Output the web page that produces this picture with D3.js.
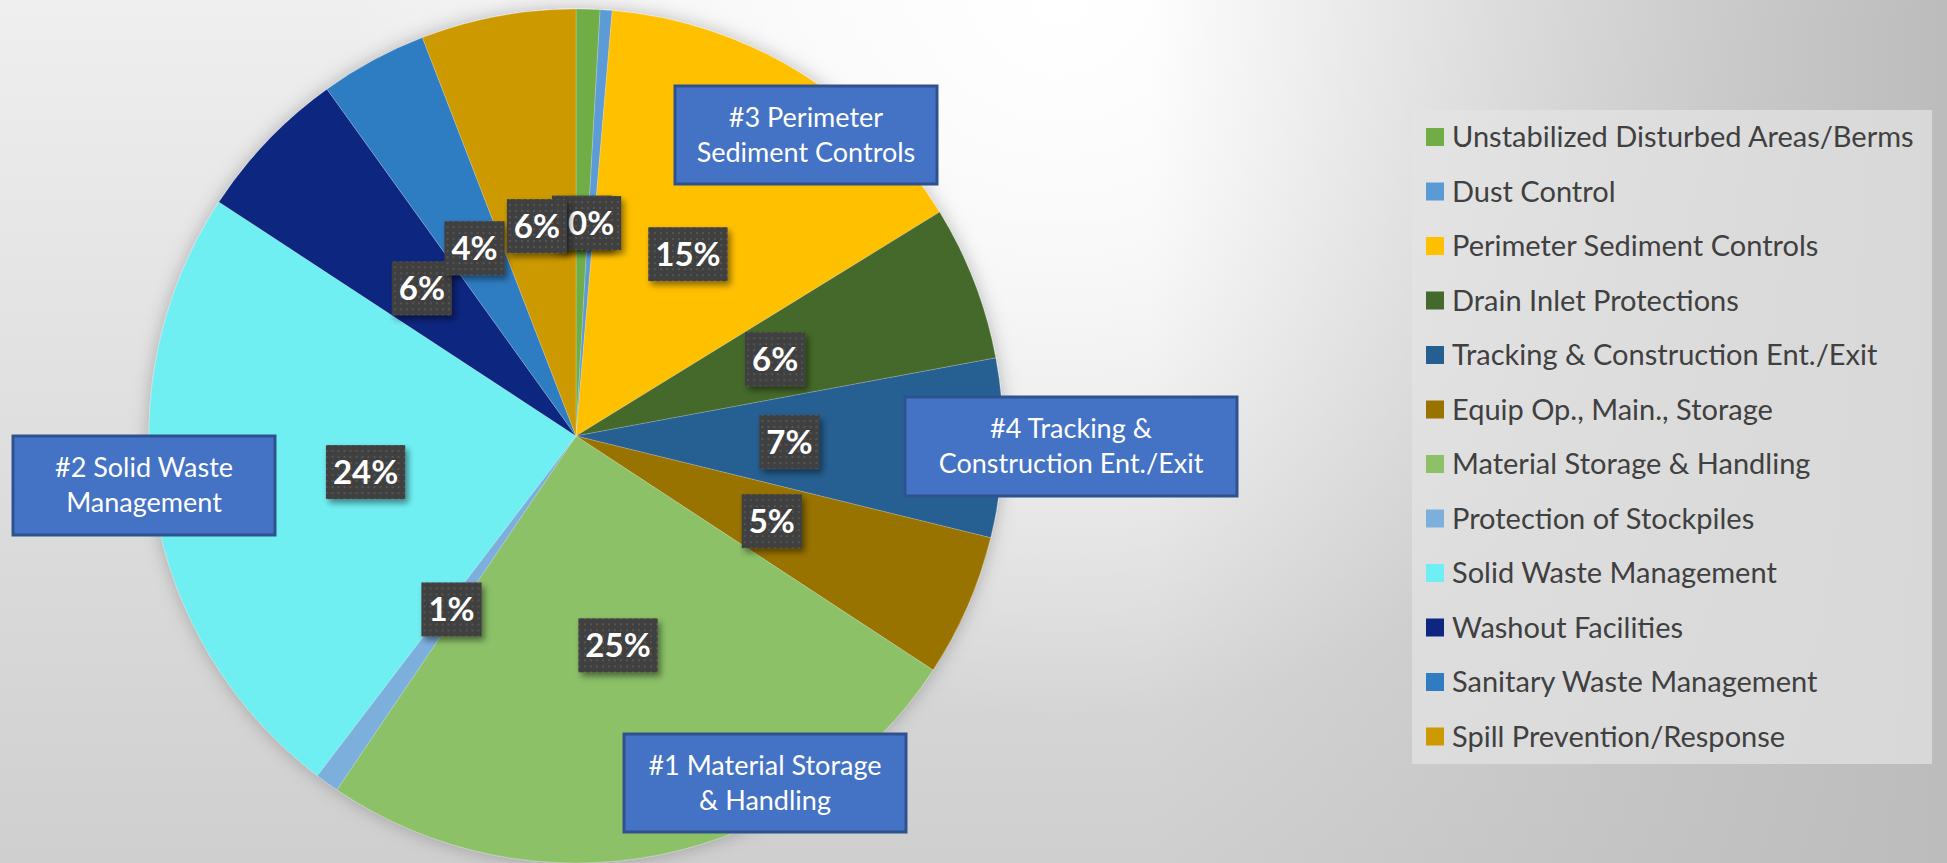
<!DOCTYPE html>
<html>
<head>
<meta charset="utf-8">
<script src="https://cdn.jsdelivr.net/npm/d3@7"></script>
<style>
  html, body { margin: 0; padding: 0; overflow: hidden; }
  svg { display: block; }
</style>
</head>
<body>
<div id="chart"></div>
<script>
// categories and their counts
const categories = [
  "Unstabilized Disturbed Areas/Berms",
  "Dust Control",
  "Perimeter Sediment Controls",
  "Drain Inlet Protections",
  "Tracking & Construction Ent./Exit",
  "Equip Op., Main., Storage",
  "Material Storage & Handling",
  "Protection of Stockpiles",
  "Solid Waste Management",
  "Washout Facilities",
  "Sanitary Waste Management",
  "Spill Prevention/Response"
];
const counts = [2, 1, 33, 13, 15, 12, 56, 2, 53, 13, 9, 13];
const colors = ["#70AD47", "#5B9BD5", "#FFC000", "#44692C", "#255E91", "#997300",
  "#8CC168", "#7DAFDD", "#6FEFF3", "#0E2680", "#2F7CC2", "#CC9A00"];

// callout boxes on the slide
const calloutLines = [
  ["#3 Perimeter", "Sediment Controls"],
  ["#4 Tracking &", "Construction Ent./Exit"],
  ["#2 Solid Waste", "Management"],
  ["#1 Material Storage", "& Handling"]
];
const calloutBoxes = [
  { x: 675, y: 86, w: 262, h: 98 },
  { x: 905, y: 397, w: 332, h: 99 },
  { x: 13, y: 436, w: 262, h: 99 },
  { x: 624, y: 734, w: 282, h: 98 }
];

const W = 1947, H = 863;
const cx = 576, cy = 436, R = 427;

const svg = d3.select("#chart").append("svg")
  .attr("width", W)
  .attr("height", H);

const defs = svg.append("defs");

// slide background: vertical grey, white glow at top, darker right edge
const bgV = defs.append("linearGradient")
  .attr("id", "bgV").attr("x1", 0).attr("y1", 0).attr("x2", 0).attr("y2", 1);
bgV.append("stop").attr("offset", "0%").attr("stop-color", "#efefef");
bgV.append("stop").attr("offset", "100%").attr("stop-color", "#cfcfcf");

const glow = defs.append("radialGradient")
  .attr("id", "glow")
  .attr("gradientUnits", "userSpaceOnUse")
  .attr("cx", 1060).attr("cy", 0).attr("r", 720);
glow.append("stop").attr("offset", "0%").attr("stop-color", "#ffffff").attr("stop-opacity", 1);
glow.append("stop").attr("offset", "35%").attr("stop-color", "#ffffff").attr("stop-opacity", 0.75);
glow.append("stop").attr("offset", "100%").attr("stop-color", "#ffffff").attr("stop-opacity", 0);

const edge = defs.append("linearGradient")
  .attr("id", "edge")
  .attr("gradientUnits", "userSpaceOnUse")
  .attr("x1", 1150).attr("y1", 0).attr("x2", W).attr("y2", 0);
edge.append("stop").attr("offset", "0%").attr("stop-color", "#bcbcbc").attr("stop-opacity", 0);
edge.append("stop").attr("offset", "100%").attr("stop-color", "#bcbcbc").attr("stop-opacity", 1);

svg.append("rect").attr("width", W).attr("height", H).attr("fill", "url(#bgV)");
svg.append("rect").attr("width", W).attr("height", H).attr("fill", "url(#glow)");
svg.append("rect").attr("width", W).attr("height", H).attr("fill", "url(#edge)");

// dotted texture for the data labels
const pat = defs.append("pattern")
  .attr("id", "dots")
  .attr("width", 6).attr("height", 6)
  .attr("patternUnits", "userSpaceOnUse");
pat.append("rect").attr("width", 6).attr("height", 6).attr("fill", "#3f3f3f");
pat.append("rect").attr("x", 2).attr("y", 2).attr("width", 2).attr("height", 2).attr("fill", "#555555");

// shadows
const sh = defs.append("filter").attr("id", "shadow")
  .attr("x", "-30%").attr("y", "-30%").attr("width", "160%").attr("height", "160%");
sh.append("feDropShadow")
  .attr("dx", 3).attr("dy", 4).attr("stdDeviation", 3)
  .attr("flood-color", "#000").attr("flood-opacity", 0.45);

const pieSh = defs.append("filter").attr("id", "pieShadow")
  .attr("x", "-10%").attr("y", "-10%").attr("width", "120%").attr("height", "120%");
pieSh.append("feDropShadow")
  .attr("dx", 0).attr("dy", 0).attr("stdDeviation", 9)
  .attr("flood-color", "#000").attr("flood-opacity", 0.25);

// pie
const data = categories.map((c, i) => ({ name: c, value: counts[i], color: colors[i] }));
const total = d3.sum(counts);

const pie = d3.pie()
  .sort(null)
  .value(d => d.value);

const arc = d3.arc()
  .innerRadius(0)
  .outerRadius(R);

const arcs = pie(data);

const g = svg.append("g")
  .attr("transform", `translate(${cx}, ${cy})`);

g.append("g")
  .attr("filter", "url(#pieShadow)")
  .selectAll("path")
  .data(arcs)
  .join("path")
  .attr("d", arc)
  .attr("fill", d => d.data.color)
  .attr("stroke", "rgba(255,255,255,0.25)")
  .attr("stroke-width", 0.8);

// data labels (drawn in slice order, so later ones cover earlier ones)
const labels = g.append("g")
  .selectAll("g")
  .data(arcs)
  .join("g")
  .attr("transform", d => `translate(${arc.centroid(d)})`);

labels.each(function (d) {
  const lg = d3.select(this);
  const txt = Math.round(d.data.value / total * 100) + "%";
  const rect = lg.append("rect").attr("fill", "url(#dots)").attr("filter", "url(#shadow)");
  const t = lg.append("text")
    .attr("text-anchor", "middle")
    .attr("dy", "0.36em")
    .style("font-family", "Lato, 'Open Sans', sans-serif")
    .style("font-weight", "bold")
    .style("font-size", "33px")
    .style("fill", "#ffffff")
    .text(txt);
  const bw = t.node().getComputedTextLength() + 14;
  const bh = 54;
  rect.attr("x", -bw / 2).attr("y", -bh / 2).attr("width", bw).attr("height", bh);
});

// callouts
const callouts = svg.append("g")
  .selectAll("g")
  .data(calloutLines)
  .join("g")
  .attr("transform", (d, i) => `translate(${calloutBoxes[i].x}, ${calloutBoxes[i].y})`);

callouts.append("rect")
  .attr("width", (d, i) => calloutBoxes[i].w)
  .attr("height", (d, i) => calloutBoxes[i].h)
  .attr("fill", "#4472C4")
  .attr("stroke", "#2F528F")
  .attr("stroke-width", 3);

callouts.each(function (lines, i) {
  const b = calloutBoxes[i];
  const t = d3.select(this).append("text")
    .attr("text-anchor", "middle")
    .style("font-family", "Lato, 'Open Sans', sans-serif")
    .style("font-size", "27px")
    .style("fill", "#ffffff");
  lines.forEach((line, j) => {
    t.append("tspan")
      .attr("x", b.w / 2)
      .attr("y", b.h / 2 + (j - 0.5) * 35)
      .attr("dy", "0.35em")
      .text(line);
  });
});

// legend
const legend = svg.append("g")
  .attr("transform", "translate(1412, 110)");

legend.append("rect")
  .attr("width", 520)
  .attr("height", 654)
  .attr("fill", "#e4e4e4")
  .attr("fill-opacity", 0.7);

const legendItem = legend.selectAll(".legendItem")
  .data(data)
  .join("g")
  .attr("class", "legendItem")
  .attr("transform", (d, i) => `translate(14, ${27 + i * 54.5})`);

legendItem.append("rect")
  .attr("y", -9)
  .attr("width", 18)
  .attr("height", 18)
  .attr("fill", d => d.color);

legendItem.append("text")
  .attr("x", 26)
  .attr("dy", "0.35em")
  .style("font-family", "Lato, 'Open Sans', sans-serif")
  .style("font-size", "29px")
  .style("fill", "#404040")
  .text(d => d.name);
</script>
</body>
</html>
